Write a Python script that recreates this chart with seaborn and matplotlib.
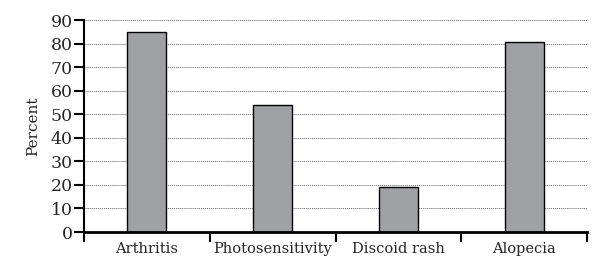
import matplotlib
matplotlib.use("Agg")
import matplotlib.pyplot as plt
import seaborn as sns
import pandas as pd
import numpy as np

# Chart data
categories = ["Arthritis", "Photosensitivity", "Discoid rash", "Alopecia"]
percent = [85, 54, 19.3, 80.5]

df = pd.DataFrame({"feature": categories, "percent": percent})

sns.set_style("white")
plt.rcParams["font.family"] = ["DejaVu Serif"]

fig = plt.figure(figsize=(5.92, 2.61), dpi=100)
ax = fig.add_axes([0.142, 0.111, 0.850, 0.812])

sns.barplot(data=df, x="feature", y="percent", color="#a0a1a5",
            edgecolor="black", linewidth=1.0, width=0.31, saturation=1, ax=ax)

ax.set_ylim(0, 90)
ax.set_xlim(-0.5, 3.5)
ax.set_yticks(np.arange(0, 91, 10))
ax.yaxis.grid(True, linestyle=(0, (1, 1)), color="#666666", linewidth=0.7)
ax.set_axisbelow(True)

for s in ["top", "right"]:
    ax.spines[s].set_visible(False)
ax.spines["left"].set_linewidth(1.5)
ax.spines["bottom"].set_linewidth(2.0)
ax.spines["left"].set_color("black")
ax.spines["bottom"].set_color("black")

# category boundaries as ticks below the axis
ax.set_xticks(np.arange(-0.5, 3.6, 1.0), minor=True)
ax.tick_params(axis="x", which="minor", bottom=True, length=7, width=1.5,
               direction="out", color="black")
ax.tick_params(axis="x", which="major", bottom=True, length=0, labelsize=10.5, pad=7)
ax.tick_params(axis="y", left=True, length=7, width=1.5, direction="out",
               color="black", labelsize=12.5, pad=1)

ax.set_xlabel("")
ax.set_ylabel("Percent", fontsize=11, labelpad=8)

fig.savefig("out.png", dpi=100)
